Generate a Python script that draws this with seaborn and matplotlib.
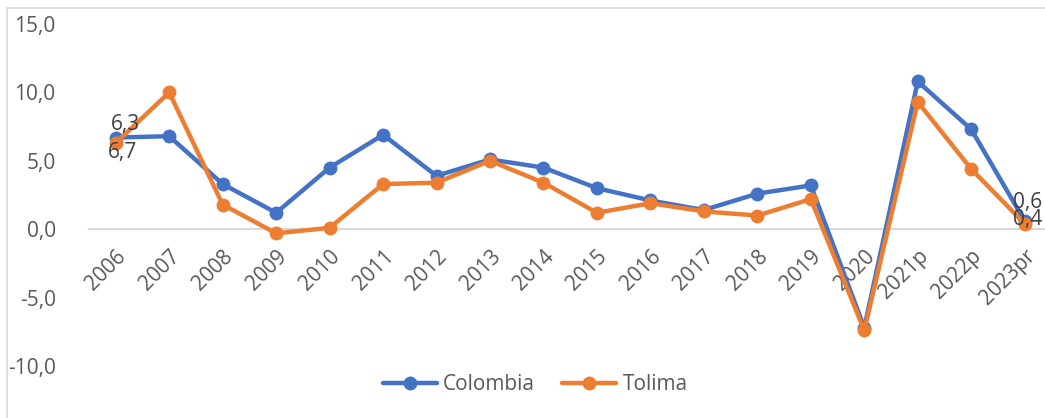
import matplotlib
matplotlib.use("Agg")
import matplotlib.pyplot as plt
import seaborn as sns
import pandas as pd
from matplotlib.patches import Rectangle

years = ["2006", "2007", "2008", "2009", "2010", "2011", "2012", "2013", "2014",
         "2015", "2016", "2017", "2018", "2019", "2020", "2021p", "2022p", "2023pr"]
colombia = [6.7, 6.8, 3.3, 1.2, 4.5, 6.9, 3.9, 5.1, 4.5, 3.0, 2.1, 1.4, 2.6, 3.2,
            -7.2, 10.8, 7.3, 0.6]
tolima = [6.3, 10.0, 1.8, -0.3, 0.1, 3.3, 3.4, 5.0, 3.4, 1.2, 1.9, 1.3, 1.0, 2.2,
          -7.4, 9.3, 4.4, 0.4]
series_names = ["Colombia", "Tolima"]
colors = ["#4472C4", "#ED7D31"]
yticks = [-10, -5, 0, 5, 10, 15]

df = pd.DataFrame({
    "year": years * 2,
    "pos": list(range(len(years))) * 2,
    "value": colombia + tolima,
    "serie": [series_names[0]] * len(years) + [series_names[1]] * len(years),
})

sns.set_style("white")
plt.rcParams["font.family"] = ["Open Sans", "DejaVu Sans"]
FS = 15

fig = plt.figure(figsize=(10.45, 4.18), dpi=100)
ax = fig.add_axes([89 / 1045, (418 - 366) / 418, (1045 - 89) / 1045, (366 - 24) / 418])

sns.lineplot(data=df, x="pos", y="value", hue="serie", palette=colors,
             marker="o", markersize=10, markeredgewidth=0, linewidth=3.2,
             ax=ax, legend=True)

for s in ["top", "right", "left"]:
    ax.spines[s].set_visible(False)
ax.spines["bottom"].set_position(("data", 0))
ax.spines["bottom"].set_color("#D9D9D9")
ax.spines["bottom"].set_linewidth(1.5)
ax.spines["bottom"].set_zorder(0)

ax.set_xlim(-0.5, 17.38)
ax.set_ylim(-10, 15)
ax.set_yticks(yticks)
ax.set_yticklabels([f"{v:.1f}".replace(".", ",") for v in yticks],
                   fontsize=FS, color="#595959")
ax.set_xticks(range(len(years)))
ax.set_xticklabels(years, rotation=45, ha="right", rotation_mode="anchor",
                   fontsize=FS, color="#595959")
ax.tick_params(axis="both", length=0)
ax.tick_params(axis="y", pad=24)
ax.tick_params(axis="x", pad=12)
ax.set_xlabel("")
ax.set_ylabel("")

# data labels
lab_kw = dict(fontsize=FS, color="#404040", ha="center")
ax.annotate(f"{tolima[0]:.1f}".replace(".", ","), (0, tolima[0]), xytext=(7, 6),
            textcoords="offset points", va="bottom", **lab_kw)
ax.annotate(f"{colombia[0]:.1f}".replace(".", ","), (0, colombia[0]), xytext=(5, -3),
            textcoords="offset points", va="top", **lab_kw)
ax.annotate(f"{colombia[-1]:.1f}".replace(".", ","), (17, colombia[-1]), xytext=(2, 13),
            textcoords="offset points", va="center", **lab_kw)
ax.annotate(f"{tolima[-1]:.1f}".replace(".", ","), (17, tolima[-1]), xytext=(2, 3),
            textcoords="offset points", va="center", **lab_kw)

handles, labels = ax.get_legend_handles_labels()
ax.legend_.remove()
fig.legend(handles, labels, loc="center", bbox_to_anchor=(0.512, 0.08), ncol=2,
           frameon=False, fontsize=FS, handlelength=2.6, columnspacing=1.3,
           labelcolor="#595959", handletextpad=0.3)

# chart border
fig.patches.append(Rectangle((7 / 1045, -0.05), 1.2, (418 - 8) / 418 + 0.05,
                             transform=fig.transFigure, fill=False,
                             edgecolor="#D9D9D9", linewidth=1.2))

fig.savefig("out.png", dpi=100)
